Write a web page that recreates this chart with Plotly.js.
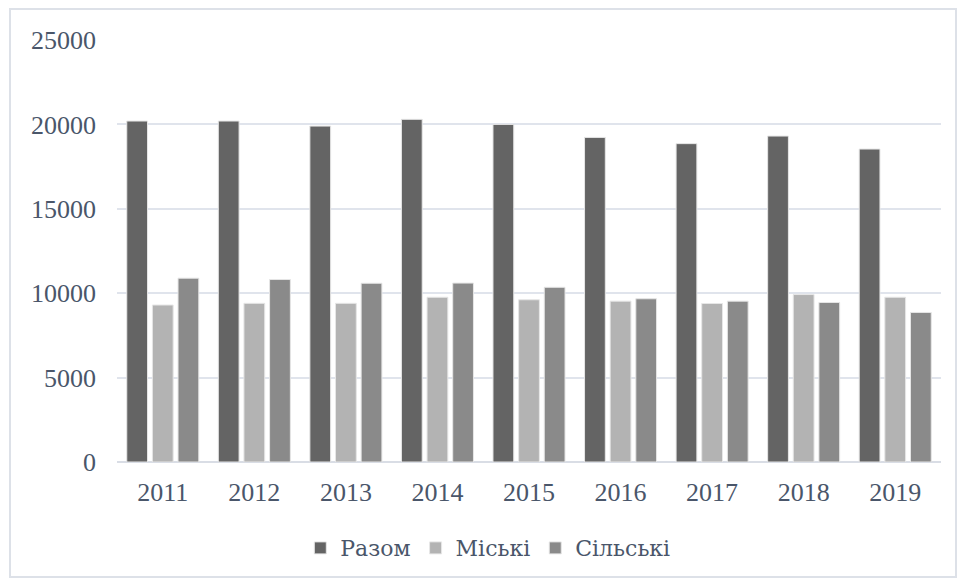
<!DOCTYPE html>
<html>
<head>
<meta charset="utf-8">
<script src="https://cdn.plot.ly/plotly-3.0.1.min.js"></script>
<style>
html,body{margin:0;padding:0;background:#fff;}
#wrap{position:relative;width:961px;height:581px;}
#chart{position:absolute;left:0;top:0;width:961px;height:581px;}
#frame{position:absolute;left:9px;top:8px;width:944px;height:566px;border:2px solid #dde1e8;pointer-events:none;}
</style>
</head>
<body>
<div id="wrap"><div id="chart"></div><div id="frame"></div></div>
<script>
const years = ['2011','2012','2013','2014','2015','2016','2017','2018','2019'];
const razom = [20200, 20200, 19900, 20300, 20000, 19230, 18860, 19310, 18540];
const miski = [9300, 9400, 9400, 9760, 9610, 9530, 9390, 9920, 9760];
const silski = [10890, 10810, 10590, 10600, 10350, 9670, 9530, 9450, 8860];
const seriesNames = ['Разом', 'Міські', 'Сільські'];
const yTicks = [0, 5000, 10000, 15000, 20000, 25000];

const FAMILY = 'Times New Roman, Liberation Serif, serif';
const font = {family: FAMILY, size: 26, color: '#4a566a'};
const colors = ['#646464', '#b3b3b3', '#8a8a8a'];
const vals = [razom, miski, silski];

const data = vals.map((v, i) => ({
  type: 'bar',
  x: years,
  y: v,
  name: seriesNames[i],
  marker: {color: colors[i], line: {color: '#e6e6e6', width: 1}},
  hoverinfo: 'x+y+name'
}));

const layout = {
  width: 961, height: 581,
  margin: {l: 117, r: 20, t: 40, b: 119},
  paper_bgcolor: 'rgba(0,0,0,0)',
  plot_bgcolor: '#fff',
  font: font,
  barmode: 'group',
  bargap: 0.16,
  bargroupgap: 0.19,
  showlegend: true,
  legend: {
    orientation: 'h', x: 0.45, xanchor: 'center', y: -0.204, yanchor: 'middle',
    font: {family: 'DejaVu Serif', size: 22, color: '#4a566a'},
    itemwidth: 30, traceorder: 'normal'
  },
  xaxis: {
    type: 'category',
    showgrid: false, showline: false, zeroline: false,
    ticks: '', ticklabelstandoff: 12,
    tickfont: font
  },
  yaxis: {
    range: [0, 25000],
    tickvals: yTicks,
    ticktext: yTicks.map(String),
    showgrid: true, gridcolor: '#e0e4ec', gridwidth: 2,
    zeroline: true, zerolinecolor: '#d9dde5', zerolinewidth: 2,
    showline: false, ticks: '', ticklabelstandoff: 20,
    tickfont: font
  }
};

Plotly.newPlot('chart', data, layout, {displayModeBar: false, staticPlot: true});
</script>
</body>
</html>
